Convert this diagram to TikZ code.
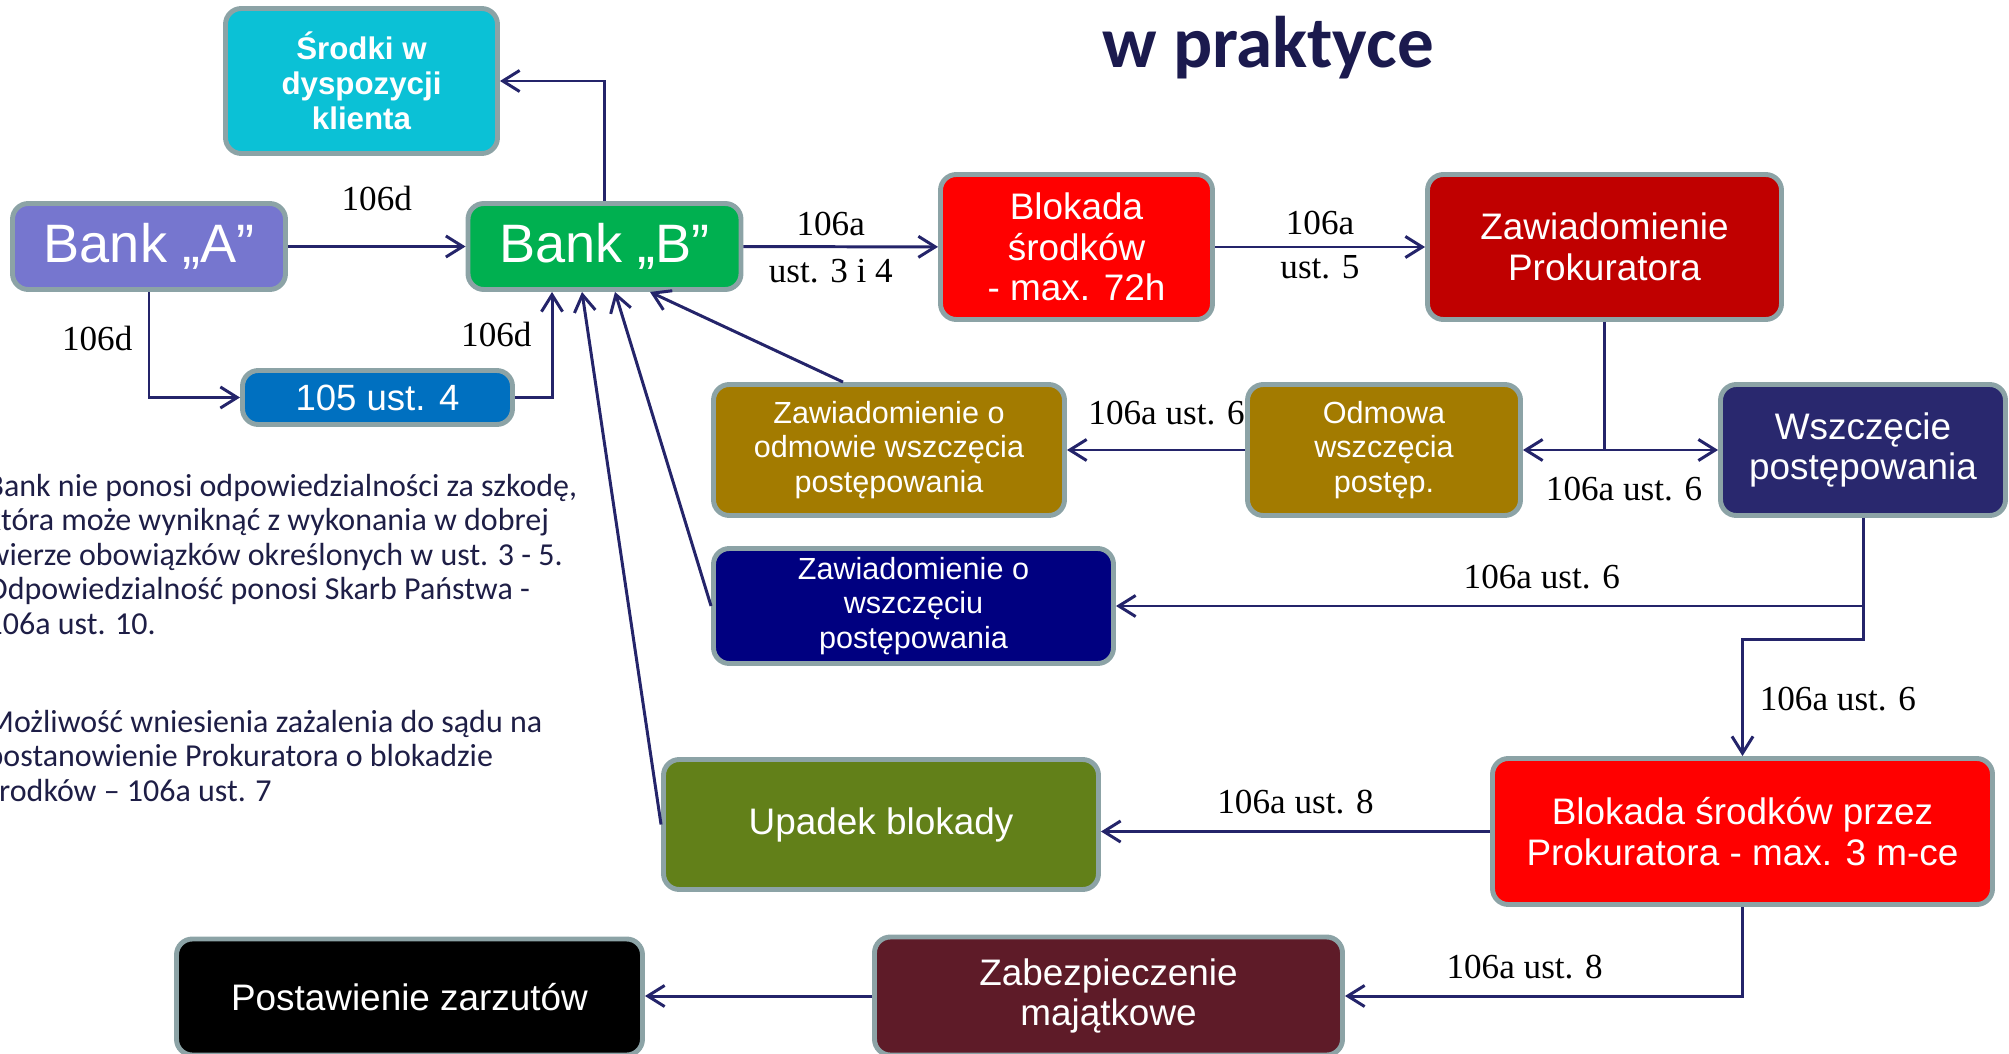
\documentclass[tikz,border=0pt]{standalone}
\usepackage{fontspec}
\usepackage{tikz}
\usetikzlibrary{arrows.meta,positioning}
\newfontfamily\boxfont{Liberation Sans}
\newfontfamily\lblfont{Liberation Serif}
\newfontfamily\slidefont{Carlito}
\definecolor{frame}{RGB}{140,163,166}
\definecolor{arrc}{RGB}{36,36,106}
\definecolor{ttl}{RGB}{27,26,78}
\definecolor{txt}{RGB}{30,30,70}
\definecolor{ccyan}{RGB}{11,193,214}
\definecolor{cbanka}{RGB}{118,118,207}
\definecolor{cbankb}{RGB}{0,176,80}
\definecolor{cblue}{RGB}{0,112,192}
\definecolor{cred}{RGB}{255,0,0}
\definecolor{cdred}{RGB}{192,0,0}
\definecolor{cgold}{RGB}{163,123,0}
\definecolor{cindigo}{RGB}{41,40,110}
\definecolor{cnavy}{RGB}{0,0,128}
\definecolor{colive}{RGB}{98,128,25}
\definecolor{cmaroon}{RGB}{94,27,40}
\tikzset{
  bx/.style={draw=frame,line width=1.4pt,rounded corners=4.5pt,text=white,align=center,inner sep=0pt},
  bxm/.style={bx,font=\boxfont\fontsize{10.5}{11.6}\selectfont},
  bxs/.style={bx,font=\boxfont\fontsize{8.7}{9.85}\selectfont},
  lbl/.style={font=\lblfont\fontsize{10}{11}\selectfont,inner sep=0pt},
  note/.style={font=\slidefont\fontsize{9.1}{9.8}\selectfont,text=txt,align=left,anchor=base west,inner sep=0pt},
  arr/.style={draw=arrc,line width=0.85pt,-{Straight Barb[length=4.8pt,width=6pt]}},
}

\begin{document}
\begin{tikzpicture}
\useasboundingbox (0,0) rectangle (20.09,-10.54);
\clip (0,0) rectangle (20.09,-10.54);
\node[font=\slidefont\bfseries\fontsize{20.8}{24}\selectfont,text=ttl,anchor=base] (title) at (12.68,-0.68) {w praktyce};
\node[bx,fill=ccyan,minimum width=2.72cm,minimum height=1.45cm,font=\boxfont\bfseries\fontsize{8.9}{10}\selectfont] (srodki) at (3.615,-0.81) {Środki w\\dyspozycji\\klienta};
\node[bx,fill=cbanka,minimum width=2.73cm,minimum height=0.86cm,font=\boxfont\fontsize{15.4}{17}\selectfont] (bankA) at (1.49,-2.465) {Bank „A”};
\node[bx,fill=cbankb,minimum width=2.73cm,minimum height=0.86cm,font=\boxfont\fontsize{15.4}{17}\selectfont] (bankB) at (6.045,-2.465) {Bank „B”};
\node[bx,fill=cblue,minimum width=2.70cm,minimum height=0.54cm,font=\boxfont\fontsize{10.4}{11.5}\selectfont] (ust105) at (3.775,-3.975) {105 ust. 4};
\node[bxm,fill=cred,minimum width=2.72cm,minimum height=1.45cm] (blok72) at (10.765,-2.47) {Blokada\\środków\\- max. 72h};
\node[bxm,fill=cdred,minimum width=3.54cm,minimum height=1.45cm] (zawProk) at (16.045,-2.47) {Zawiadomienie\\Prokuratora};
\node[bxs,fill=cgold,minimum width=3.51cm,minimum height=1.31cm] (zawOdm) at (8.89,-4.50) {Zawiadomienie o\\odmowie wszczęcia\\postępowania};
\node[bxs,fill=cgold,minimum width=2.73cm,minimum height=1.31cm] (odmowa) at (13.84,-4.50) {Odmowa\\wszczęcia\\postęp.};
\node[bxm,fill=cindigo,minimum width=2.85cm,minimum height=1.31cm] (wszcz) at (18.63,-4.50) {Wszczęcie\\postępowania};
\node[bxs,fill=cnavy,minimum width=4.00cm,minimum height=1.15cm] (zawWsz) at (9.135,-6.06) {Zawiadomienie o\\wszczęciu\\postępowania};
\node[bxm,fill=colive,minimum width=4.35cm,minimum height=1.30cm] (upadek) at (8.81,-8.245) {Upadek blokady};
\node[bxm,fill=cred,minimum width=5.00cm,minimum height=1.46cm] (blokProk) at (17.425,-8.315) {Blokada środków przez\\Prokuratora - max. 3 m-ce};
\node[bxm,fill=cmaroon,minimum width=4.68cm,minimum height=1.18cm] (zabezp) at (11.085,-9.96) {Zabezpieczenie\\majątkowe};
\node[bxm,fill=black,minimum width=4.66cm,minimum height=1.16cm] (postaw) at (4.095,-9.97) {Postawienie zarzutów};
\node[note] (note1) at (-0.14,-6.34) {Bank nie ponosi odpowiedzialności za szkodę,\\która może wyniknąć z wykonania w dobrej\\wierze obowiązków określonych w ust. 3 - 5.\\Odpowiedzialność ponosi Skarb Państwa -\\106a ust. 10.};
\node[note] (note2) at (-0.14,-8.01) {Możliwość wniesienia zażalenia do sądu na\\postanowienie Prokuratora o blokadzie\\środków – 106a ust. 7};
\draw[arr] (bankA) -- node[lbl,above=9.6pt]{106d} (bankB);
\draw[arr] (bankA.south) |- node[lbl,pos=0.22,left=4.3pt]{106d} (ust105.west);
\draw[arr] (ust105.east) -| node[lbl,pos=0.8,left=5.4pt]{106d} ([xshift=-5.25mm]bankB.south);
\draw[arr] (bankB.north) |- (srodki.east);
\draw[arr] (bankB) -- node[lbl,above=2.8pt,xshift=-1mm]{106a} node[lbl,below=3pt,xshift=-1mm]{ust. 3 i 4} (blok72);
\draw[arr] (blok72) -- node[lbl,above=3pt]{106a} node[lbl,below=2pt]{ust. 5} (zawProk);
\draw[arr] (zawProk.south) |- (odmowa.east);
\draw[arr] (zawProk.south) |- node[lbl,pos=0.586,below=7.4pt]{106a ust. 6} (wszcz.west);
\draw[arr] (odmowa) -- node[lbl,above=6.8pt,xshift=3pt]{106a ust. 6} (zawOdm);
\draw[arr] ([xshift=-4.6mm]zawOdm.north) -- ([xshift=4.55mm]bankB.south);
\draw[arr] (zawWsz.west) -- ([xshift=1.05mm]bankB.south);
\draw[arr] (upadek.west) -- ([xshift=-2.25mm]bankB.south);
\draw[arr] (wszcz.south) |- node[lbl,pos=0.715,above=4.5pt]{106a ust. 6} (zawWsz.east);
\draw[arr] (wszcz.south) -- ++(0,-1.215) -| node[lbl,pos=0.756,right=4.5pt]{106a ust. 6} (blokProk.north);
\draw[arr] (blokProk.west) -- node[lbl,above=4.5pt]{106a ust. 8} (blokProk.west -| upadek.east);
\draw[arr] (blokProk.south) |- node[lbl,pos=0.774,above=4.5pt]{106a ust. 8} (zabezp.east);
\draw[arr] (zabezp.west) -- (zabezp.west -| postaw.east);
\end{tikzpicture}
\end{document}
